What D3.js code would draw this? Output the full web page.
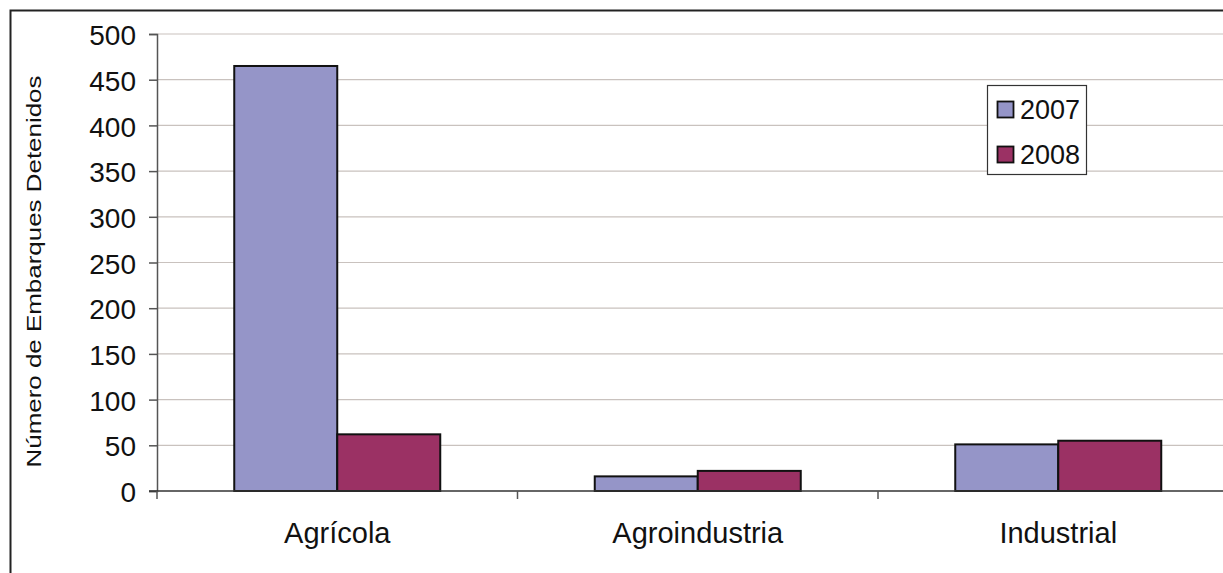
<!DOCTYPE html>
<html>
<head>
<meta charset="utf-8">
<script src="https://cdn.jsdelivr.net/npm/d3@7"></script>
<style>
  html, body { margin: 0; padding: 0; background: #fff; }
  svg { display: block; font-family: "Liberation Sans", Arial, sans-serif; }
</style>
</head>
<body>
<svg id="chart" width="1223" height="573"></svg>
<script>
// Detained shipments by sector, 2007 vs 2008
const categories = ["Agrícola", "Agroindustria", "Industrial"];
const seriesNames = ["2007", "2008"];
const values2007 = [465, 16, 51];
const values2008 = [62, 22, 55];
const yTicks = [0, 50, 100, 150, 200, 250, 300, 350, 400, 450, 500];
const yTitle = "Número de Embarques Detenidos";

const colors = { "2007": "#9595c8", "2008": "#9b3164" };
const FONT = "Liberation Sans, Arial, sans-serif";

const svg = d3.select("#chart");
const W = 1223, H = 573;

// outer chart frame (runs past the right and bottom edges)
svg.append("rect")
  .attr("x", 10.5).attr("y", 10.5)
  .attr("width", W + 20).attr("height", H + 20)
  .attr("fill", "#fff").attr("stroke", "#222").attr("stroke-width", 2);

const plot = { left: 157, top: 34, right: 1238.5, bottom: 491 };

const x0 = d3.scaleBand().domain(categories)
  .range([plot.left, plot.right]).paddingInner(0).paddingOuter(0);
const x1 = d3.scaleBand().domain(seriesNames)
  .range([0, x0.bandwidth()]).paddingInner(0).paddingOuter(0.75);
const y = d3.scaleLinear().domain([0, 500]).range([plot.bottom, plot.top]);

// gridlines
svg.append("g").selectAll("line").data(yTicks.filter(d => d > 0)).join("line")
  .attr("x1", plot.left).attr("x2", plot.right)
  .attr("y1", d => y(d)).attr("y2", d => y(d))
  .attr("stroke", "#c9c2be").attr("stroke-width", 1.2);

// bars
const rows = categories.map((c, i) => ({ c, vals: [
  { s: "2007", v: values2007[i] }, { s: "2008", v: values2008[i] } ] }));
svg.append("g").selectAll("g").data(rows).join("g")
  .attr("transform", d => `translate(${x0(d.c)},0)`)
  .selectAll("rect").data(d => d.vals).join("rect")
  .attr("x", d => x1(d.s)).attr("width", x1.bandwidth())
  .attr("y", d => y(d.v)).attr("height", d => y(0) - y(d.v))
  .attr("fill", d => colors[d.s]).attr("stroke", "#111").attr("stroke-width", 2);

// y axis
const yAxis = svg.append("g").attr("transform", `translate(${plot.left},0)`)
  .call(d3.axisLeft(y).tickValues(yTicks).tickSize(8).tickPadding(13).tickFormat(d3.format("d")));
yAxis.attr("font-size", null).attr("font-family", null);
yAxis.select(".domain").attr("stroke", "#555").attr("stroke-width", 1.5);
yAxis.selectAll(".tick line").attr("stroke", "#555").attr("stroke-width", 1.5);
yAxis.selectAll(".tick text").attr("font-size", 28).attr("fill", "#111")
  .attr("font-family", FONT).attr("dy", "0.38em");

// x axis
const xAxis = svg.append("g").attr("transform", `translate(0,${plot.bottom})`)
  .call(d3.axisBottom(x0).tickSize(0).tickPadding(31));
xAxis.attr("font-size", null).attr("font-family", null);
xAxis.select(".domain").remove();
svg.append("line").attr("x1", plot.left - 8).attr("x2", plot.right)
  .attr("y1", plot.bottom).attr("y2", plot.bottom)
  .attr("stroke", "#333").attr("stroke-width", 1.5);
svg.append("g").selectAll("line").data(categories).join("line")
  .attr("x1", d => x0(d)).attr("x2", d => x0(d))
  .attr("y1", plot.bottom).attr("y2", plot.bottom + 8)
  .attr("stroke", "#555").attr("stroke-width", 1.5);
xAxis.selectAll(".tick text").attr("font-size", 29).attr("fill", "#111")
  .attr("font-family", FONT).attr("dy", "0.71em");

// y axis title
svg.append("text")
  .attr("transform", `translate(41,${(plot.top + plot.bottom) / 2 + 9}) rotate(-90)`)
  .attr("text-anchor", "middle").attr("font-size", 21).attr("fill", "#111")
  .attr("textLength", 392).attr("lengthAdjust", "spacingAndGlyphs")
  .text(yTitle);

// legend
const lg = svg.append("g").attr("transform", "translate(987,85)");
lg.append("rect").attr("x", 0.5).attr("y", 0.5).attr("width", 99).attr("height", 89)
  .attr("fill", "#fff").attr("stroke", "#333").attr("stroke-width", 1.2);
seriesNames.forEach((s, i) => {
  const cy = 24.5 + i * 45;
  lg.append("rect").attr("x", 10.5).attr("y", cy - 8).attr("width", 16).attr("height", 16)
    .attr("fill", colors[s]).attr("stroke", "#111").attr("stroke-width", 1.8);
  lg.append("text").attr("x", 33).attr("y", cy).attr("dy", "0.36em")
    .attr("font-size", 27).attr("fill", "#111").attr("font-family", FONT).text(s);
});
</script>
</body>
</html>
